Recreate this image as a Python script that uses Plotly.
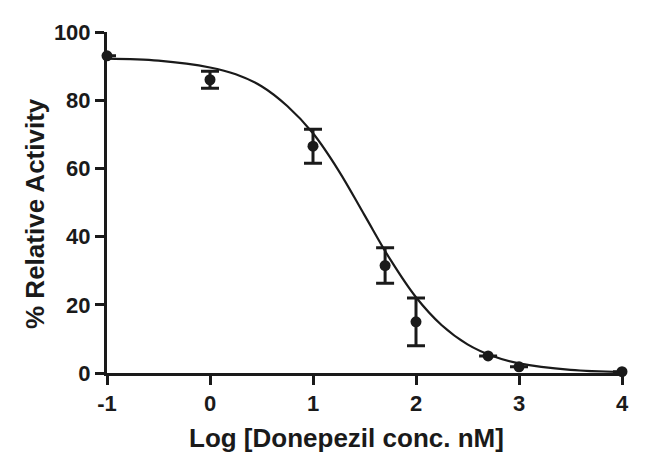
import plotly.graph_objects as go

# Measured data points (log concentration, % activity, SEM)
log_conc = [-1, 0, 1, 1.7, 2, 2.7, 3, 4]
activity = [93.0, 86.0, 66.5, 31.5, 15.0, 5.0, 1.8, 0.4]
sem = [0, 2.5, 5.0, 5.2, 7.0, 0, 0, 0]

# Fitted curve
curve_x = [-1, -0.5, 0, 0.25, 0.5, 0.75, 1, 1.25, 1.5, 1.75, 2, 2.25, 2.5, 2.75, 3, 3.5, 4]
curve_y = [92.2, 91.6, 89.6, 87.6, 84.1, 78.3, 70.3, 59.3, 46.3, 33.3, 22.2, 14.0, 8.4, 4.9, 2.8, 0.9, 0.3]

x_ticks = [-1, 0, 1, 2, 3, 4]
y_ticks = [0, 20, 40, 60, 80, 100]

x_title = "Log [Donepezil conc. nM]"
y_title = "% Relative Activity"

FONT = "Arial, Liberation Sans, sans-serif"
INK = "#1a1a1a"

fig = go.Figure()
fig.add_trace(go.Scatter(
    x=curve_x, y=curve_y, mode="lines",
    line=dict(color=INK, width=2.2, shape="spline", smoothing=1.0),
    hoverinfo="skip", showlegend=False, cliponaxis=False,
))
fig.add_trace(go.Scatter(
    x=log_conc, y=activity, mode="markers",
    marker=dict(color=INK, size=11, symbol="circle"),
    error_y=dict(type="data", array=sem, visible=True, color=INK, thickness=3, width=9),
    showlegend=False, cliponaxis=False,
))

fig.update_layout(
    width=650, height=468,
    # page body adds an 8px offset, compensated here
    margin=dict(l=99, r=36, t=22, b=103),
    paper_bgcolor="white", plot_bgcolor="white",
    font=dict(family=FONT, color=INK, size=22, weight="bold"),
    xaxis=dict(
        range=[-1, 4], tickvals=x_ticks, ticktext=[str(v) for v in x_ticks],
        showline=True, linecolor=INK, linewidth=3, mirror=False,
        ticks="outside", ticklen=9, tickwidth=2.5, tickcolor=INK,
        showgrid=False, zeroline=False,
        tickfont=dict(family=FONT, size=22, color=INK, weight="bold"),
    ),
    yaxis=dict(
        range=[0, 100], tickvals=y_ticks, ticktext=[str(v) for v in y_ticks],
        showline=True, linecolor=INK, linewidth=3,
        ticks="outside", ticklen=9, tickwidth=2.5, tickcolor=INK,
        showgrid=False, zeroline=False,
        tickfont=dict(family=FONT, size=22, color=INK, weight="bold"),
    ),
    annotations=[
        dict(text=x_title, xref="paper", yref="paper", x=0.466, y=-0.19,
             xanchor="center", yanchor="middle", showarrow=False,
             font=dict(family=FONT, size=26, color=INK, weight="bold")),
        dict(text=y_title, xref="paper", yref="paper", x=-0.14, y=0.469,
             xanchor="center", yanchor="middle", showarrow=False, textangle=-90,
             font=dict(family=FONT, size=26, color=INK, weight="bold")),
    ],
)

fig.write_html("out.html")
